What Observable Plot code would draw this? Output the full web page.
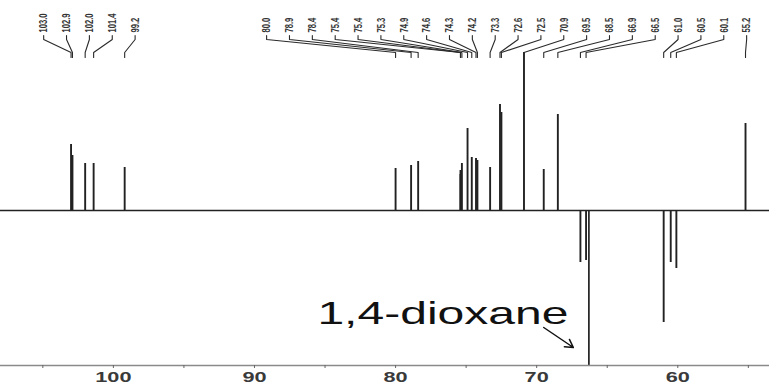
<!DOCTYPE html>
<html><head><meta charset="utf-8">
<script src="https://cdn.jsdelivr.net/npm/d3@7"></script>
<script src="https://cdn.jsdelivr.net/npm/@observablehq/plot@0.6"></script>
<style>body{margin:0;background:#fff}</style>
</head><body><div id="chart"></div>
<script>
// Peak list (ppm) and signed intensities (arbitrary units, baseline = 0)
const shifts = [103.0, 102.9, 102.0, 101.4, 99.2, 80.0, 78.9, 78.4, 75.4, 75.4, 75.3, 74.9, 74.6, 74.3, 74.2, 73.3, 72.6, 72.5, 70.9, 69.5, 68.5, 66.9, 66.5, 61.0, 60.5, 60.1, 55.2];
const intensities = [66, 55, 47, 47, 43, 42, 45, 49, 40, 36, 47, 82, 53, 52, 50, 43, 106, 98, 158, 41, 96, -52, -50, -112, -52, -58, 87];
const solventName = "1,4-dioxane";
const solventShift = 66.3;
const solventIntensity = -155;
const majorTicks = [100, 90, 80, 70, 60];
const minorTicks = [105, 95, 85, 75, 65, 55];

const W = 769, H = 386;
const xDomain = [108, 53.5];
const yDomain = [-155, 210];
const gap = 1.62; // label spacing in ppm
const stretch = 1.55;

// label layout: cluster-and-spread in u = -ppm (left to right)
function layoutLabels(ppms) {
  const order = d3.range(ppms.length).sort((a, b) => ppms[b] - ppms[a]);
  const lo = -xDomain[0] + gap, hi = -xDomain[1] - gap;
  const startOf = c => Math.max(lo, Math.min(c.sum / c.n - (c.n - 1) * gap / 2, hi - (c.n - 1) * gap));
  const clusters = [];
  for (const i of order) {
    clusters.push({n: 1, sum: -ppms[i], idx: [i]});
    while (clusters.length > 1) {
      const b = clusters[clusters.length - 1], a = clusters[clusters.length - 2];
      const aEnd = startOf(a) + (a.n - 1) * gap;
      if (startOf(b) - aEnd < gap) { a.n += b.n; a.sum += b.sum; a.idx.push(...b.idx); clusters.pop(); }
      else break;
    }
  }
  const pos = new Array(ppms.length);
  for (const c of clusters) {
    const s = startOf(c);
    c.idx.forEach((i, k) => pos[i] = -(s + k * gap));
  }
  return pos;
}
const labelPos = layoutLabels(shifts);
const peaks = shifts.map((s, i) => ({ppm: s, h: intensities[i], lab: labelPos[i], text: d3.format(".1f")(s)}));

// leader lines
const yLabel = 178, yL1 = 175, yL2 = 171, yL3 = 158, yL4 = 153;
const leaders = peaks.flatMap((p, i) => [
  {x: p.lab, y: yL1, z: i}, {x: p.lab, y: yL2, z: i}, {x: p.ppm, y: yL3, z: i}, {x: p.ppm, y: yL4, z: i}
]);

const ink = "#222";
const chart = Plot.plot({
  width: W, height: H,
  marginTop: 0, marginBottom: 21, marginLeft: 0, marginRight: 0,
  style: {fontFamily: "Liberation Sans, Arial, sans-serif", background: "#fff"},
  x: {domain: xDomain},
  y: {domain: yDomain, axis: null},
  marks: [
    Plot.ruleY([0], {stroke: ink, strokeWidth: 1.6}),
    Plot.ruleX(peaks, {x: "ppm", y1: 0, y2: "h", stroke: ink, strokeWidth: 1.9}),
    Plot.ruleX([{x: solventShift, h: solventIntensity}], {x: "x", y1: 0, y2: "h", stroke: ink, strokeWidth: 1.7}),
    Plot.line(leaders, {x: "x", y: "y", z: "z", stroke: "#2a2a2a", strokeWidth: 1.1}),
    Plot.text(peaks, {x: "lab", y: yLabel, text: "text", rotate: -90, textAnchor: "start", fontSize: 7.6, fontWeight: "bold", fill: "#333"}),
    Plot.text([solventName], {x: solventShift + 1.45, y: -104, text: d => d, textAnchor: "end", fontSize: 31, fill: "#111"}),
    Plot.arrow([{x1: solventShift + 3.2, y1: -117, x2: solventShift + 1.1, y2: -137}], {x1: "x1", y1: "y1", x2: "x2", y2: "y2", stroke: "#111", strokeWidth: 1.5, headLength: 9}),
    Plot.ruleY([yDomain[0]], {stroke: "#8a8a8a", strokeWidth: 1.6}),
    Plot.axisX({ticks: [...majorTicks, ...minorTicks], tickFormat: d => majorTicks.includes(d) ? String(d) : "", tickSize: 3, tickPadding: 4, fontSize: 14, fontWeight: "bold", fill: "#3a3a3a", stroke: "#666"})
  ]
});
document.getElementById("chart").appendChild(chart);

// horizontal stretch of glyphs, as in the scanned original
d3.select(chart).selectAll("text").each(function() {
  const t = this.textContent;
  let tr = this.getAttribute("transform");
  if (!tr) {
    const x = +this.getAttribute("x") || 0, y = +this.getAttribute("y") || 0;
    this.removeAttribute("x"); this.removeAttribute("y");
    tr = `translate(${x},${y})`;
  }
  if (/^\d+\.\d$/.test(t)) this.setAttribute("transform", tr + ` scale(1,${stretch})`);
  else if (/^\d+$/.test(t) || t === solventName) this.setAttribute("transform", tr + ` scale(${stretch},1)`);
});
</script>
</body></html>
